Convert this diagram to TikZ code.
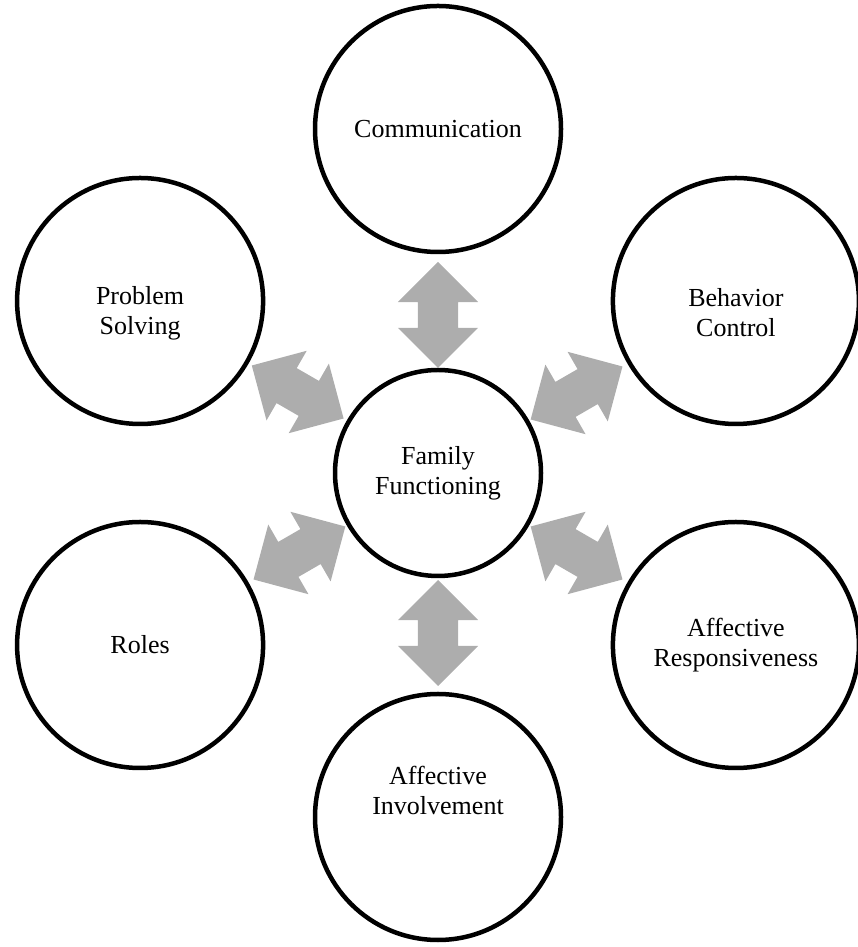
\documentclass[tikz,border=0pt]{standalone}
\usepackage{fontspec}
\setmainfont{Liberation Serif}
\usepackage{tikz}
\usetikzlibrary{positioning,calc}
\usetikzlibrary{shapes.arrows}

\definecolor{arrowgray}{RGB}{173,173,173}

\begin{document}
\begin{tikzpicture}[x=1pt,y=1pt,
    words/.style={align=center, font=\fontsize{26}{30}\selectfont},
    dimension/.style={circle, draw, line width=4.5pt, minimum size=246pt, inner sep=0pt, words},
    core/.style={dimension, minimum size=206pt},
    link/.style={double arrow, fill=arrowgray, draw=none, inner xsep=0pt, inner ysep=20pt,
      minimum height=106pt, double arrow head extend=20pt}]
            \useasboundingbox (0,0) rectangle (857,947);

            % the centre
            \node[core] (ff) at (438,474) {Family\\Functioning};

            % the six dimensions around it
            \node[dimension] (comm)  at ($(ff)+(90:344)$)   {Communication};
            \node[dimension, label={[words, yshift=-12pt]center:Behavior\\Control}]
              (behav) at ($(ff)+(30:344)$) {};
            \node[dimension] (resp)  at ($(ff)+(-30:344)$)  {Affective\\Responsiveness};
            \node[dimension, label={[words, yshift=27pt]center:Affective\\Involvement}]
              (invol) at ($(ff)+(-90:344)$) {};
            \node[dimension] (roles) at ($(ff)+(-150:344)$) {Roles};
            \node[dimension, label={[words, yshift=-12pt]center:Problem\\Solving}]
              (solve) at ($(ff)+(150:344)$) {};

            % the two-way arrows between them
            \node[link, rotate=90]   (a-comm)  at ($(ff)!158pt!(comm)$)  {};
            \node[link, rotate=30]   (a-behav) at ($(ff)!160pt!(behav)$) {};
            \node[link, rotate=-30]  (a-resp)  at ($(ff)!160pt!(resp)$)  {};
            \node[link, rotate=-90]  (a-invol) at ($(ff)!160pt!(invol)$) {};
            \node[link, rotate=-150] (a-roles) at ($(ff)!160pt!(roles)$) {};
            \node[link, rotate=150]  (a-solve) at ($(ff)!162pt!(solve)$) {};
          \end{tikzpicture}
\end{document}
